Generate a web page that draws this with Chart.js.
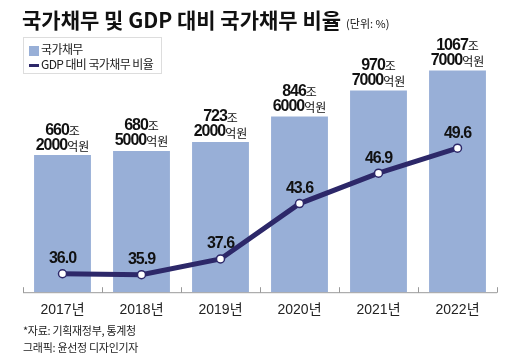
<!DOCTYPE html>
<html><head><meta charset="utf-8">
<script src="https://cdn.jsdelivr.net/npm/chart.js@4/dist/chart.umd.min.js"></script>
<style>
html,body{margin:0;padding:0;background:#fff;}
#wrap{position:relative;width:520px;height:360px;overflow:hidden;font-family:"Noto Sans CJK KR","Liberation Sans",sans-serif;}
#c{position:absolute;left:0;top:0;}
#title{position:absolute;left:22px;top:4px;font-weight:bold;font-size:21px;letter-spacing:0px;color:#111;white-space:nowrap;line-height:30px;}
#title span{font-weight:normal;font-size:11px;letter-spacing:0;margin-left:5px;}
#legend{position:absolute;left:23px;top:37px;width:137px;height:35px;border:1px solid #ddd;background:#fff;font-size:12px;letter-spacing:-0.6px;color:#222;}
.li{position:absolute;left:5px;white-space:nowrap;line-height:14px;}
.sw{display:inline-block;vertical-align:middle;margin-right:2px;}
#foot{position:absolute;left:23px;top:322px;font-size:11px;color:#222;line-height:17px;letter-spacing:-0.3px;}
</style></head>
<body><div id="wrap">
<canvas id="c" width="520" height="360"></canvas>
<div id="title">국가채무 및 GDP 대비 국가채무 비율<span>(단위: %)</span></div>
<div id="legend">
 <div class="li" style="top:4px"><span class="sw" style="width:10px;height:10px;background:#98afd7"></span>국가채무</div>
 <div class="li" style="top:19px"><span class="sw" style="width:10px;height:3px;background:#2d2869"></span>GDP 대비 국가채무 비율</div>
</div>
<div id="foot">*자료: 기획재정부, 통계청<br>그래픽: 윤선정 디자인기자</div>
</div>
<script>
const categories = ["2017년","2018년","2019년","2020년","2021년","2022년"];
const debtValues = [660.2, 680.5, 723.2, 846.6, 970.7, 1067.7];
const debtLabelTop = ["660","680","723","846","970","1067"];
const debtLabelBottom = ["2000","5000","2000","6000","7000","7000"];
const ratioValues = [36.0, 35.9, 37.6, 43.6, 46.9, 49.6];

const BAR = "#98afd7", LINE = "#2d2869";
const NUMFONT = 'bold 16px "Liberation Sans", Arial, sans-serif';
const KRFONT = '12px "Noto Sans CJK KR", sans-serif';

function drawMixed(ctx, parts, cx, cy){
  let total = 0;
  parts.forEach(p=>{ctx.font=p.f; ctx.letterSpacing=p.ls||'0px'; p.w=ctx.measureText(p.t).width; total+=p.w;});
  let x = cx - total/2;
  parts.forEach(p=>{ctx.font=p.f; ctx.letterSpacing=p.ls||'0px'; ctx.textAlign='left'; ctx.textBaseline='middle'; ctx.fillText(p.t, x, cy+(p.dy||0)); x+=p.w;});
  ctx.letterSpacing='0px';
}

const labelPlugin = {
  id:'labels',
  afterDatasetsDraw(chart){
    const ctx = chart.ctx;
    ctx.save();
    ctx.fillStyle = '#111';
    const barMeta = chart.getDatasetMeta(0);
    barMeta.data.forEach((el,i)=>{
      drawMixed(ctx,[{t:debtLabelTop[i],f:NUMFONT,ls:'-1px'},{t:'조',f:KRFONT,dy:1}], el.x, el.y-25);
      drawMixed(ctx,[{t:debtLabelBottom[i],f:NUMFONT,ls:'-1px'},{t:'억원',f:KRFONT,dy:1}], el.x, el.y-10);
    });
    const lineMeta = chart.getDatasetMeta(1);
    lineMeta.data.forEach((el,i)=>{
      drawMixed(ctx,[{t:ratioValues[i].toFixed(1),f:NUMFONT,ls:'-1px'}], el.x, el.y-15);
    });
    ctx.restore();
  },
  beforeDatasetsDraw(chart){
    const ctx = chart.ctx, a = chart.chartArea, xs = chart.scales.x;
    ctx.save();
    ctx.strokeStyle = '#9a9a9a'; ctx.lineWidth = 1;
    ctx.beginPath();
    ctx.moveTo(a.left, a.bottom+0.5); ctx.lineTo(a.right, a.bottom+0.5);
    const step = (xs.getPixelForValue(1)-xs.getPixelForValue(0));
    for(let i=0;i<=categories.length;i++){
      const x = Math.round(xs.getPixelForValue(0) - step/2 + i*step)+0.5;
      ctx.moveTo(x, a.bottom+0.5); ctx.lineTo(x, a.bottom-5);
    }
    ctx.stroke();
    ctx.restore();
  }
};

new Chart(document.getElementById('c'), {
  data:{
    labels: categories,
    datasets:[
      {type:'bar', label:'국가채무', data:debtValues, backgroundColor:BAR, yAxisID:'y', order:2,
       categoryPercentage:0.72, barPercentage:1.0},
      {type:'line', label:'GDP 대비 국가채무 비율', data:ratioValues, yAxisID:'y2', order:1,
       borderColor:LINE, borderWidth:5, tension:0, pointRadius:4, pointBackgroundColor:'#fff',
       pointBorderColor:LINE, pointBorderWidth:1.5}
    ]
  },
  options:{
    responsive:false, animation:false, devicePixelRatio:1,
    layout:{padding:{left:23,right:23,top:43,bottom:39}},
    plugins:{legend:{display:false}, title:{display:false}, tooltip:{enabled:false}},
    scales:{
      x:{grid:{display:false}, border:{display:false},
         ticks:{padding:2, color:'#222', font:{family:'"Liberation Sans","Noto Sans CJK KR",sans-serif', size:14}}},
      y:{display:false, min:0, max:1200},
      y2:{display:false, min:34, max:61}
    }
  },
  plugins:[labelPlugin]
});
</script>
</body></html>
